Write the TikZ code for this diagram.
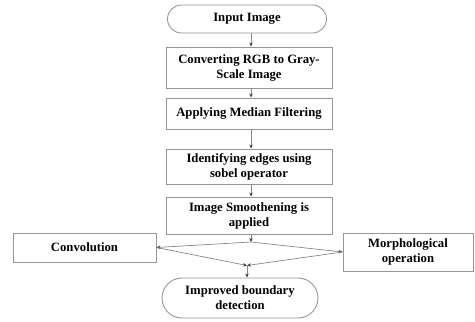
\documentclass[tikz,border=0pt]{standalone}
\usepackage{fontspec}
\setmainfont{Liberation Serif}
\usetikzlibrary{arrows.meta}
\definecolor{edgegray}{RGB}{150,150,150}
\definecolor{linegray}{RGB}{135,135,135}
\definecolor{tipgray}{RGB}{60,60,60}
\begin{document}
\begin{tikzpicture}[x=1pt,y=-1pt,
  every node/.style={font=\bfseries\fontsize{12.7}{15}\selectfont, align=center, inner sep=0pt, text=black},
  stepbox/.style={draw=edgegray, line width=0.9pt, fill=white},
  terminal/.style={draw=edgegray, line width=0.9pt, fill=white, rounded corners=14pt},
  flow/.style={draw=linegray, line width=0.7pt, -{Stealth[length=4pt,width=3.5pt,color=tipgray]}}]
  \useasboundingbox (0,0) rectangle (475,322);

  % main column
  \node[terminal, minimum width=159pt, minimum height=28pt] (start) at (247,19) {Input Image};
  \node[stepbox, minimum width=166pt, minimum height=41pt] (gray) at (249,67.5) {Converting RGB to Gray-\\Scale Image};
  \node[stepbox, minimum width=166pt, minimum height=31pt] (median) at (249,113.5) {Applying Median Filtering};
  \node[stepbox, minimum width=166pt, minimum height=35pt] (sobel) at (249,166.5) {Identifying edges using\\sobel operator};
  \node[stepbox, minimum width=166pt, minimum height=37pt] (smooth) at (249,215.5) {Image Smoothening is\\applied};

  % side branches and result
  \node[stepbox, minimum width=143pt, minimum height=29pt] (conv) at (84.5,247.5) {Convolution};
  \node[stepbox, minimum width=130pt, minimum height=38pt] (morph) at (408,252) {Morphological\\operation};
  \node[terminal, rounded corners=20pt, minimum width=156pt, minimum height=40pt] (result) at (240,298) {Improved boundary\\detection};

  % split and merge points
  \coordinate (split) at (251,242);
  \coordinate (merge) at (247,265.5);

  \draw[flow] (start.south -| 251,0) -- (gray.north -| 251,0);
  \draw[flow] (gray.south -| 251,0) -- (median.north -| 251,0);
  \draw[flow] (median.south -| 251,0) -- (sobel.north -| 251,0);
  \draw[flow] (sobel.south -| 251,0) -- (smooth.north -| 251,0);
  \draw[flow] (smooth.south -| split) -- (split);
  \draw[flow] (split) -- (conv.east);
  \draw[flow] (split) -- (morph.west);
  \draw[flow] (conv.east) -- (merge);
  \draw[flow] (morph.west) -- (merge);
  \draw[flow] (merge) -- (result.north -| merge);
\end{tikzpicture}
\end{document}
